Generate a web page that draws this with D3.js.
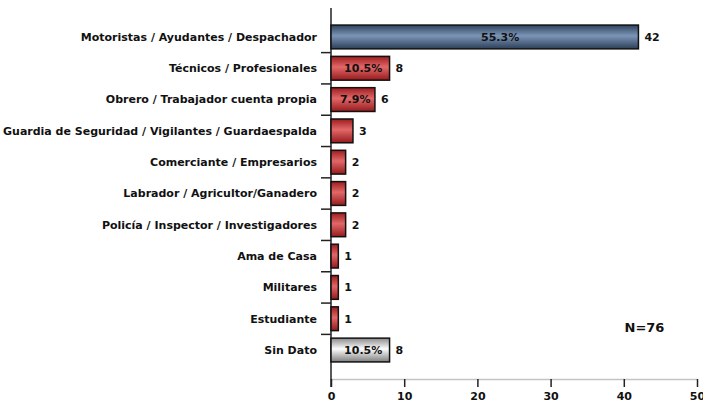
<!DOCTYPE html>
<html>
<head>
<meta charset="utf-8">
<script src="https://cdn.jsdelivr.net/npm/d3@7"></script>
<style>
  body { margin: 0; background: #fff; }
  text { font-family: "DejaVu Sans", Verdana, sans-serif; font-weight: bold; fill: #111; }
</style>
</head>
<body>
<div class="vis-barchart"></div>
<script>
const categories = [
  "Motoristas / Ayudantes / Despachador",
  "Técnicos / Profesionales",
  "Obrero / Trabajador cuenta propia",
  "Guardia de Seguridad / Vigilantes / Guardaespalda",
  "Comerciante / Empresarios",
  "Labrador / Agricultor/Ganadero",
  "Policía / Inspector / Investigadores",
  "Ama de Casa",
  "Militares",
  "Estudiante",
  "Sin Dato"
];
const counts = [42, 8, 6, 3, 2, 2, 2, 1, 1, 1, 8];
const pctLabels = ["55.3%", "10.5%", "7.9%", null, null, null, null, null, null, null, "10.5%"];
const groups = ["blue", "red", "red", "red", "red", "red", "red", "red", "red", "red", "gray"];
const xTicks = [0, 10, 20, 30, 40, 50];
const totalLabel = "N=76";

const width = 703, height = 402;
const plot = {left: 331, right: 697, top: 8, bottom: 379};

const svg = d3.select('.vis-barchart').append('svg')
  .attr('width', width)
  .attr('height', height);

// gradients
const gradients = {
  blue: ["#2e425d", "#7c95b7", "#2c3f58"],
  red: ["#9e1c1f", "#e26868", "#961a1c"],
  gray: ["#8a8a8a", "#fcfcfc", "#7e7e7e"]
};
const defs = svg.append("defs");
Object.keys(gradients).forEach(function(k) {
  const g = defs.append("linearGradient")
    .attr("id", "grad-" + k)
    .attr("x1", 0).attr("y1", 0).attr("x2", 0).attr("y2", 1);
  g.append("stop").attr("offset", "0%").attr("stop-color", gradients[k][0]);
  g.append("stop").attr("offset", "45%").attr("stop-color", gradients[k][1]);
  g.append("stop").attr("offset", "100%").attr("stop-color", gradients[k][2]);
});

const x = d3.scaleLinear().domain([0, 50]).range([plot.left, plot.right]);
const y = d3.scaleBand()
  .domain(categories)
  .range([plot.top, plot.bottom])
  .paddingInner(0.24)
  .paddingOuter(0.545);

const data = categories.map(function(c, i) {
  return { cat: c, value: counts[i], pct: pctLabels[i], group: groups[i] };
});

// x axis
const xAxis = svg.append("g")
  .attr("transform", "translate(0," + plot.bottom + ")")
  .call(d3.axisBottom(x).tickValues(xTicks).tickSize(8).tickPadding(5).tickSizeOuter(0));
xAxis.select(".domain").attr("stroke", "#c4c4c4").attr("stroke-width", 1.5);
xAxis.selectAll(".tick line").attr("stroke", "#222").attr("stroke-width", 1.5);
xAxis.selectAll(".tick text")
  .style("font-family", '"DejaVu Sans", Verdana, sans-serif')
  .style("font-weight", "bold")
  .style("font-size", "11px")
  .attr("fill", "#111");

// y axis line
svg.append("line")
  .attr("x1", plot.left).attr("x2", plot.left)
  .attr("y1", plot.top).attr("y2", plot.bottom + 8)
  .attr("stroke", "#222").attr("stroke-width", 1.5);

// y ticks between categories
const gap = y.step() * y.paddingInner() / 2;
svg.selectAll(".ytick")
  .data(categories.slice(1))
  .enter()
  .append("line")
    .attr("class", "ytick")
    .attr("x1", plot.left - 10).attr("x2", plot.left)
    .attr("y1", function(d) { return y(d) - gap; })
    .attr("y2", function(d) { return y(d) - gap; })
    .attr("stroke", "#222").attr("stroke-width", 1.5);

// category labels
svg.selectAll(".catlabel")
  .data(data)
  .enter()
  .append("text")
    .attr("class", "catlabel")
    .attr("x", plot.left - 14)
    .attr("y", function(d) { return y(d.cat) + y.bandwidth() / 2; })
    .attr("dy", "0.35em")
    .attr("text-anchor", "end")
    .style("font-size", "11px")
    .text(function(d) { return d.cat; });

// bars
svg.selectAll(".bar")
  .data(data)
  .enter()
  .append("rect")
    .attr("class", "bar")
    .attr("x", x(0))
    .attr("y", function(d) { return y(d.cat); })
    .attr("width", function(d) { return x(d.value) - x(0); })
    .attr("height", y.bandwidth())
    .attr("fill", function(d) { return "url(#grad-" + d.group + ")"; })
    .attr("stroke", "#111")
    .attr("stroke-width", 1.5);

// value labels
svg.selectAll(".vallabel")
  .data(data)
  .enter()
  .append("text")
    .attr("class", "vallabel")
    .attr("x", function(d) { return x(d.value) + 6; })
    .attr("y", function(d) { return y(d.cat) + y.bandwidth() / 2; })
    .attr("dy", "0.35em")
    .style("font-size", "11px")
    .text(function(d) { return d.value; });

// percent labels inside bars
svg.selectAll(".pctlabel")
  .data(data.filter(function(d) { return d.pct; }))
  .enter()
  .append("text")
    .attr("class", "pctlabel")
    .attr("x", function(d) { return x(d.value * 0.55); })
    .attr("y", function(d) { return y(d.cat) + y.bandwidth() / 2; })
    .attr("dy", "0.35em")
    .attr("text-anchor", "middle")
    .style("font-size", "11px")
    .text(function(d) { return d.pct; });

// total
svg.append("text")
  .attr("x", x(40.1))
  .attr("y", y("Sin Dato") - gap - 7)
  .attr("dy", "0.35em")
  .style("font-size", "13px")
  .text(totalLabel);
</script>
</body>
</html>
